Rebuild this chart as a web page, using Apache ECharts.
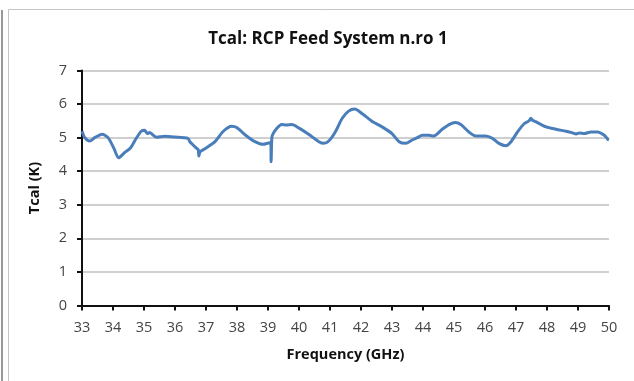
<!DOCTYPE html>
<html>
<head>
<meta charset="utf-8">
<script src="https://cdn.jsdelivr.net/npm/echarts@6/dist/echarts.min.js"></script>
<style>
  html, body { margin: 0; padding: 0; background: #fff; }
  #chart { width: 634px; height: 381px; }
</style>
</head>
<body>
<div id="chart"></div>
<script>
// Calibration temperature of the RCP feed vs. frequency
const freqGHz = [
  33.00, 33.09, 33.25, 33.41, 33.65, 33.84, 34.03, 34.18, 34.38, 34.57,
  34.75, 34.91, 35.02, 35.11, 35.18, 35.40, 35.67, 35.99, 36.42, 36.48,
  36.70, 36.75, 36.77, 36.81, 37.02, 37.29, 37.56, 37.83, 37.99, 38.31,
  38.58, 38.85, 39.06, 39.09, 39.10, 39.12, 39.14, 39.28, 39.44, 39.60,
  39.77, 39.99, 40.31, 40.64, 40.80, 40.96, 41.17, 41.39, 41.60, 41.80,
  42.03, 42.35, 42.68, 43.00, 43.23, 43.44, 43.65, 43.82, 43.98, 44.19,
  44.35, 44.62, 44.84, 45.05, 45.22, 45.48, 45.70, 46.02, 46.24, 46.45,
  46.67, 46.84, 47.05, 47.27, 47.42, 47.48, 47.53, 47.65, 47.97, 48.29,
  48.61, 48.80, 48.94, 49.05, 49.20, 49.42, 49.63, 49.85, 49.96, 50.00
];
const tcalK = [
  5.19, 5.00, 4.90, 5.00, 5.10, 5.00, 4.68, 4.40, 4.56, 4.70,
  4.98, 5.19, 5.22, 5.12, 5.15, 5.01, 5.04, 5.02, 4.98, 4.88,
  4.68, 4.64, 4.45, 4.58, 4.70, 4.88, 5.19, 5.34, 5.30, 5.05,
  4.88, 4.80, 4.85, 4.85, 4.28, 4.95, 5.07, 5.27, 5.39, 5.38,
  5.39, 5.29, 5.10, 4.88, 4.83, 4.90, 5.17, 5.57, 5.79, 5.85,
  5.72, 5.49, 5.32, 5.12, 4.88, 4.83, 4.93, 5.00, 5.07, 5.07,
  5.05, 5.25, 5.39, 5.45, 5.39, 5.17, 5.05, 5.05, 4.98, 4.83,
  4.76, 4.88, 5.17, 5.42, 5.50, 5.58, 5.52, 5.47, 5.32, 5.25,
  5.19, 5.15, 5.11, 5.14, 5.12, 5.17, 5.17, 5.07, 4.95, 4.93
];
const xTicks = { min: 33, max: 50, step: 1 };
const yTicks = { min: 0, max: 7, step: 1 };

const points = freqGHz.map((f, i) => [f, tcalK[i]]);
const labelFont = 'Open Sans';

const chart = echarts.init(document.getElementById('chart'), null, { renderer: 'canvas' });
chart.setOption({
  backgroundColor: '#ffffff',
  animation: false,
  title: {
    text: 'Tcal: RCP Feed System n.ro 1',
    left: 323, top: 26, textAlign: 'center',
    textStyle: { fontFamily: labelFont, fontWeight: 'bold', fontSize: 17, color: '#111' }
  },
  graphic: [
    { type: 'rect', shape: { x: 8.5, y: 9.5, width: 640, height: 400 },
      style: { fill: null, stroke: '#c4c4c4', lineWidth: 1 } },
    { type: 'line', shape: { x1: 2, y1: 10, x2: 2, y2: 381 },
      style: { stroke: '#777', lineWidth: 1.5 } }
  ],
  grid: { left: 82, right: 25, top: 70.5, bottom: 75.5 },
  xAxis: {
    type: 'value', min: xTicks.min, max: xTicks.max, interval: xTicks.step,
    name: 'Frequency (GHz)', nameLocation: 'middle', nameGap: 42,
    nameTextStyle: { fontFamily: labelFont, fontWeight: 'bold', fontSize: 14.5, color: '#111' },
    axisLine: { lineStyle: { color: '#111', width: 2 } },
    axisTick: { show: true, length: 5, lineStyle: { color: '#111', width: 2 } },
    axisLabel: { fontFamily: labelFont, fontSize: 14.5, color: '#444', margin: 15 },
    splitLine: { show: false }
  },
  yAxis: {
    type: 'value', min: yTicks.min, max: yTicks.max, interval: yTicks.step,
    name: 'Tcal (K)', nameLocation: 'middle', nameGap: 40, nameRotate: 90,
    nameTextStyle: { fontFamily: labelFont, fontWeight: 'bold', fontSize: 14.5, color: '#111' },
    axisLine: { show: true, lineStyle: { color: '#111', width: 2 } },
    axisTick: { show: true, length: 5, lineStyle: { color: '#111', width: 2 } },
    axisLabel: { fontFamily: labelFont, fontSize: 14.5, color: '#444', margin: 15 },
    splitLine: { show: true, lineStyle: { color: '#cfcfcf', width: 2 } }
  },
  series: [{
    type: 'line',
    data: points,
    showSymbol: false,
    smooth: 0.25,
    lineStyle: { color: '#4a7ebb', width: 3 },
    z: 3
  }]
});
</script>
</body>
</html>
